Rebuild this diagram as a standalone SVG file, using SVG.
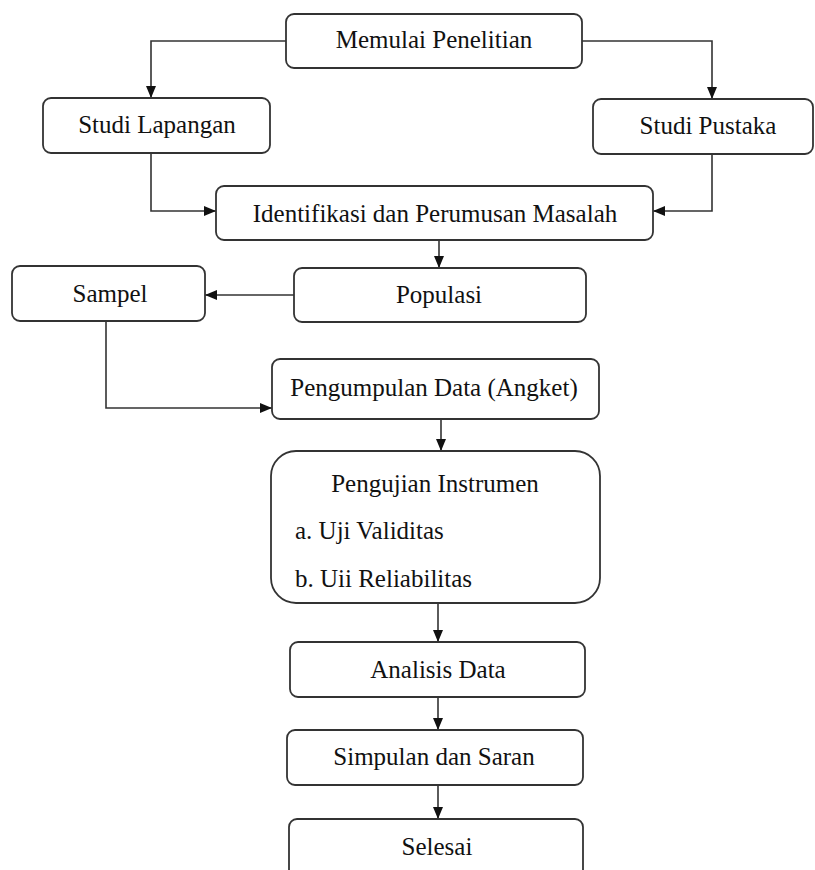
<svg xmlns="http://www.w3.org/2000/svg" width="815" height="870" viewBox="0 0 815 870">
<style>
.box{fill:#fff;stroke:#333;stroke-width:1.8}
.t{font-family:"Liberation Serif","Times New Roman",serif;font-size:25px;fill:#111;text-anchor:middle}
.tl{font-family:"Liberation Serif","Times New Roman",serif;font-size:25px;fill:#111}
.c{fill:none;stroke:#333;stroke-width:1.6;marker-end:url(#ah)}
</style>
<defs>
<marker id="ah" markerUnits="userSpaceOnUse" markerWidth="13" markerHeight="12" refX="12" refY="6" orient="auto">
<path d="M0,1 L12,6 L0,11 z" fill="#111"/>
</marker>
</defs>
<rect width="815" height="870" fill="#fff"/>
<g id="connectors">
<path class="c" d="M286,41 H151 V98"/>
<path class="c" d="M582,41 H712 V99"/>
<path class="c" d="M151,153 V211 H216"/>
<path class="c" d="M712,154 V211 H653"/>
<path class="c" d="M439,240 V268"/>
<path class="c" d="M294,295 H205"/>
<path class="c" d="M106,321 V408 H272"/>
<path class="c" d="M441,419 V451"/>
<path class="c" d="M438,603 V642"/>
<path class="c" d="M438,697 V730"/>
<path class="c" d="M438,785 V819"/>
</g>
<g id="mulai"><rect class="box" x="286" y="14" width="296" height="54" rx="8"/><text class="t" x="434" y="48">Memulai Penelitian</text></g>
<g id="lapangan"><rect class="box" x="43" y="98" width="227" height="55" rx="8"/><text class="t" x="157" y="133">Studi Lapangan</text></g>
<g id="pustaka"><rect class="box" x="593" y="99" width="220" height="55" rx="8"/><text class="t" x="708" y="134">Studi Pustaka</text></g>
<g id="identifikasi"><rect class="box" x="216" y="186" width="437" height="54" rx="8"/><text class="t" x="435" y="222">Identifikasi dan Perumusan Masalah</text></g>
<g id="sampel"><rect class="box" x="12" y="266" width="193" height="55" rx="8"/><text class="t" x="110" y="302">Sampel</text></g>
<g id="populasi"><rect class="box" x="294" y="268" width="292" height="54" rx="8"/><text class="t" x="439" y="303">Populasi</text></g>
<g id="pengumpulan"><rect class="box" x="272" y="359" width="327" height="60" rx="8"/><text class="t" x="434" y="396">Pengumpulan Data (Angket)</text></g>
<g id="pengujian"><rect class="box" x="271" y="451" width="329" height="152" rx="25"/><text class="t" x="435" y="492">Pengujian Instrumen</text><text class="tl" x="295" y="539">a. Uji Validitas</text><text class="tl" x="295" y="587">b. Uii Reliabilitas</text></g>
<g id="analisis"><rect class="box" x="290" y="642" width="295" height="55" rx="8"/><text class="t" x="438" y="678">Analisis Data</text></g>
<g id="simpulan"><rect class="box" x="287" y="730" width="296" height="55" rx="8"/><text class="t" x="434" y="765">Simpulan dan Saran</text></g>
<g id="selesai"><rect class="box" x="289" y="819" width="294" height="70" rx="8"/><text class="t" x="437" y="855">Selesai</text></g>
</svg>
